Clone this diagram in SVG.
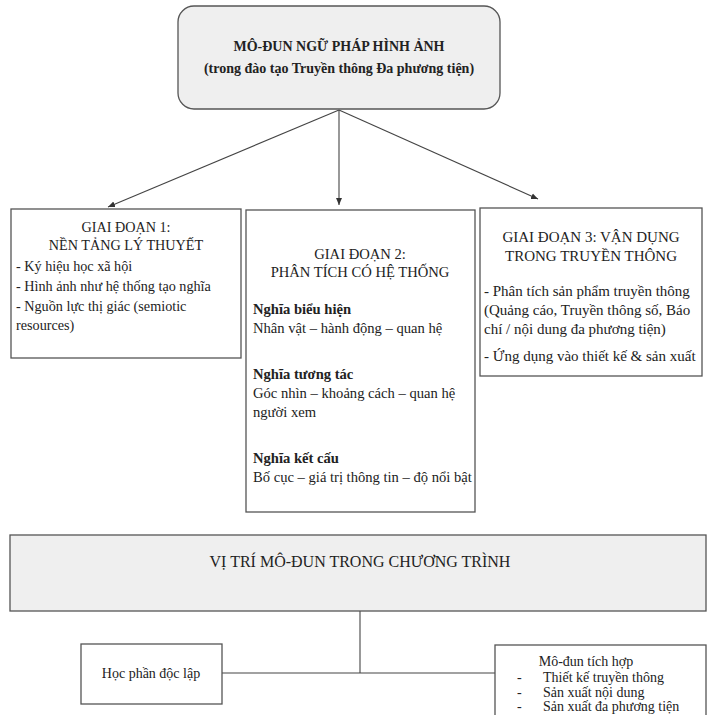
<svg xmlns="http://www.w3.org/2000/svg" width="709" height="715" viewBox="0 0 709 715" font-family="'Liberation Serif', 'Times New Roman', Times, serif">
<style>
text{font-family:'Liberation Serif','Times New Roman',Times,serif;fill:#222;font-size:15px}
.c{text-anchor:middle}
.b{font-weight:bold}
.s1{font-size:14.2px}
.s2{font-size:14.6px}
.box{fill:#fff;stroke:#555;stroke-width:1.3}
.grey{fill:#efefef;stroke:#555;stroke-width:1.3}
.ln{stroke:#444;stroke-width:1.1;fill:none}
</style>
<defs>
<marker id="ah" markerWidth="8" markerHeight="8" refX="7" refY="4" orient="auto" markerUnits="userSpaceOnUse">
<path d="M0,1 L7,4 L0,7 Z" fill="#333"/>
</marker>
</defs>
<rect width="709" height="715" fill="#fff"/>
<g id="connectors">
<line class="ln" x1="339" y1="110" x2="108" y2="207" marker-end="url(#ah)"/>
<line class="ln" x1="339" y1="110" x2="339" y2="205" marker-end="url(#ah)"/>
<line class="ln" x1="339" y1="110" x2="538" y2="199" marker-end="url(#ah)"/>
<polyline class="ln" points="360,611 360,673"/>
<line class="ln" x1="222" y1="673" x2="495" y2="673"/>
</g>
<g id="root">
<rect class="grey" x="178" y="6" width="322" height="103" rx="16"/>
<text class="c b" x="339" y="51" style="font-size:14px">MÔ-ĐUN NGỮ PHÁP HÌNH ẢNH</text>
<text class="c b" x="339" y="73" style="font-size:14px">(trong đào tạo Truyền thông Đa phương tiện)</text>
</g>
<g id="stage1">
<rect class="box" x="11" y="209" width="230" height="149"/>
<text class="c s1" x="126" y="232">GIAI ĐOẠN 1:</text>
<text class="c s1" x="126" y="250">NỀN TẢNG LÝ THUYẾT</text>
<text class="s1" x="16" y="271">- Ký hiệu học xã hội</text>
<text class="s1" x="16" y="291">- Hình ảnh như hệ thống tạo nghĩa</text>
<text class="s1" x="16" y="311">- Nguồn lực thị giác (semiotic</text>
<text class="s1" x="16" y="330">resources)</text>
</g>
<g id="stage2">
<rect class="box" x="246" y="210" width="229" height="302"/>
<text class="c s2" x="360" y="259">GIAI ĐOẠN 2:</text>
<text class="c s2" x="360" y="277">PHÂN TÍCH CÓ HỆ THỐNG</text>
<text class="b s2" x="253" y="314">Nghĩa biểu hiện</text>
<text class="s2" x="253" y="333">Nhân vật – hành động – quan hệ</text>
<text class="b s2" x="253" y="379">Nghĩa tương tác</text>
<text class="s2" x="253" y="398">Góc nhìn – khoảng cách – quan hệ</text>
<text class="s2" x="253" y="417">người xem</text>
<text class="b s2" x="253" y="463">Nghĩa kết cấu</text>
<text class="s2" x="253" y="482">Bố cục – giá trị thông tin – độ nổi bật</text>
</g>
<g id="stage3">
<rect class="box" x="480" y="208" width="222" height="168"/>
<text class="c" x="591" y="242">GIAI ĐOẠN 3: VẬN DỤNG</text>
<text class="c" x="591" y="261">TRONG TRUYỀN THÔNG</text>
<text x="484" y="296">- Phân tích sản phẩm truyền thông</text>
<text x="484" y="315">(Quảng cáo, Truyền thông số, Báo</text>
<text x="484" y="334">chí / nội dung đa phương tiện)</text>
<text x="484" y="361">- Ứng dụng vào thiết kế &amp; sản xuất</text>
</g>
<g id="position">
<rect class="grey" x="10" y="535" width="696" height="76"/>
<text class="c" x="360" y="567" style="font-size:16px">VỊ TRÍ MÔ-ĐUN TRONG CHƯƠNG TRÌNH</text>
</g>
<g id="independent">
<rect class="box" x="81" y="644" width="141" height="60"/>
<text class="c" x="151" y="678" style="font-size:14px">Học phần độc lập</text>
</g>
<g id="integrated">
<rect class="box" x="495" y="645" width="211" height="80"/>
<text class="c" x="586" y="666" style="font-size:14px">Mô-đun tích hợp</text>
<text x="517" y="682" style="font-size:14px">-</text>
<text x="543" y="682" style="font-size:14px">Thiết kế truyền thông</text>
<text x="517" y="697" style="font-size:14px">-</text>
<text x="543" y="697" style="font-size:14px">Sản xuất nội dung</text>
<text x="517" y="711" style="font-size:14px">-</text>
<text x="543" y="711" style="font-size:14px">Sản xuất đa phương tiện</text>
</g>
</svg>
